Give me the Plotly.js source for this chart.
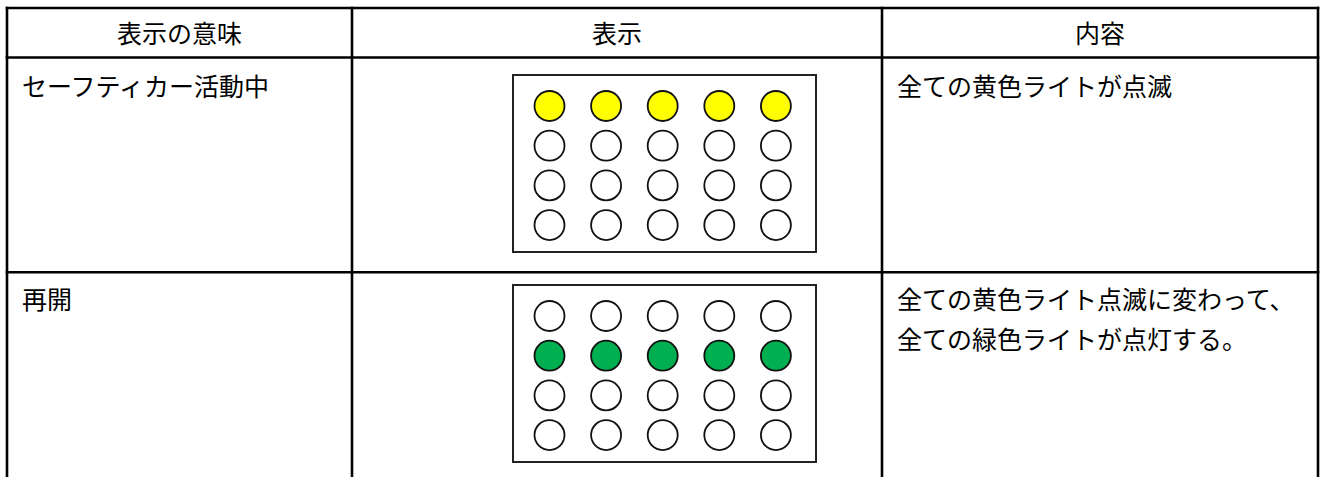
<!DOCTYPE html>
<html>
<head>
<meta charset="utf-8">
<script src="https://cdn.plot.ly/plotly-3.0.1.min.js"></script>
<style>
  html, body { margin: 0; padding: 0; background: #ffffff; }
  #chart { width: 1321px; height: 477px; }
</style>
</head>
<body>
<div id="chart"></div>
<script>
// ---- data ----
const headers = ['表示の意味', '表示', '内容'];
const meanings = ['セーフティカー活動中', '再開'];
const contentLines = [
  ['全ての黄色ライトが点滅'],
  ['全ての黄色ライト点滅に変わって、', '全ての緑色ライトが点灯する。']
];
const panelColumns = [1, 2, 3, 4, 5];
const panelRows = [1, 2, 3, 4];
const litRow = [1, 2];
const litColor = ['#FFFF00', '#00B050'];
const offColor = '#FFFFFF';

// ---- layout geometry (pixels) ----
const W = 1321, H = 477;
const colEdges = [7, 352, 882, 1318];
const rowEdges = [8, 57.5, 272.3, H + 20];
const panelTop = [75, 285];
const panelLeft = 513, panelW = 303, panelH = 177;
const lightX0 = 36.5, lightDX = 56.6;
const lightY0 = 31, lightDY = 39.7;
const FONT = '"Noto Sans CJK JP", "Noto Sans", sans-serif';
const FS = 25;
const LW = 2.6;
const LINE_GAP = 40;

const shapes = [];
for (let r = 0; r < 3; r++) {
  shapes.push({type: 'line', xref: 'x', yref: 'y', x0: colEdges[0] - LW/2, x1: colEdges[3] + LW/2,
    y0: rowEdges[r], y1: rowEdges[r], line: {color: '#000', width: LW}});
}
colEdges.forEach(x => {
  shapes.push({type: 'line', xref: 'x', yref: 'y', x0: x, x1: x,
    y0: rowEdges[0] - LW/2, y1: rowEdges[3], line: {color: '#000', width: LW}});
});

const traces = [];
const annotations = [];
const txtFont = {family: FONT, size: FS, color: '#000'};

headers.forEach((h, i) => {
  annotations.push({xref: 'x', yref: 'y', x: (colEdges[i] + colEdges[i+1]) / 2, y: (rowEdges[0] + rowEdges[1]) / 2 - 0.5,
    text: h, showarrow: false, xanchor: 'center', yanchor: 'middle', font: txtFont});
});

meanings.forEach((m, r) => {
  const top = rowEdges[r + 1];
  const firstY = top + (r === 0 ? 27 : 25.5);
  annotations.push({xref: 'x', yref: 'y', x: colEdges[0] + 13, y: firstY, text: m, showarrow: false,
    xanchor: 'left', yanchor: 'middle', align: 'left', font: txtFont});
  contentLines[r].forEach((line, k) => {
    annotations.push({xref: 'x', yref: 'y', x: colEdges[2] + 13, y: firstY + k * LINE_GAP, text: line, showarrow: false,
      xanchor: 'left', yanchor: 'middle', align: 'left', font: txtFont});
  });

  shapes.push({type: 'rect', xref: 'x', yref: 'y', layer: 'below',
    x0: panelLeft, x1: panelLeft + panelW, y0: panelTop[r], y1: panelTop[r] + panelH,
    line: {color: '#222', width: 2}, fillcolor: '#fff'});

  const xs = [], ys = [], cs = [];
  panelRows.forEach(pr => {
    panelColumns.forEach(pc => {
      xs.push(panelLeft + lightX0 + (pc - 1) * lightDX);
      ys.push(panelTop[r] + lightY0 + (pr - 1) * lightDY);
      cs.push(pr === litRow[r] ? litColor[r] : offColor);
    });
  });
  traces.push({type: 'scatter', mode: 'markers', x: xs, y: ys, hoverinfo: 'skip', cliponaxis: false,
    marker: {symbol: 'circle', size: 30, color: cs, line: {color: '#111', width: 1.8}}});
});

const layout = {
  width: W, height: H,
  margin: {l: 0, r: 0, t: 0, b: 0, pad: 0},
  paper_bgcolor: '#fff', plot_bgcolor: '#fff',
  showlegend: false,
  xaxis: {range: [0, W], visible: false, fixedrange: true},
  yaxis: {range: [H, 0], visible: false, fixedrange: true},
  shapes: shapes,
  annotations: annotations
};

Plotly.newPlot('chart', traces, layout, {staticPlot: true, displayModeBar: false});
</script>
</body>
</html>
